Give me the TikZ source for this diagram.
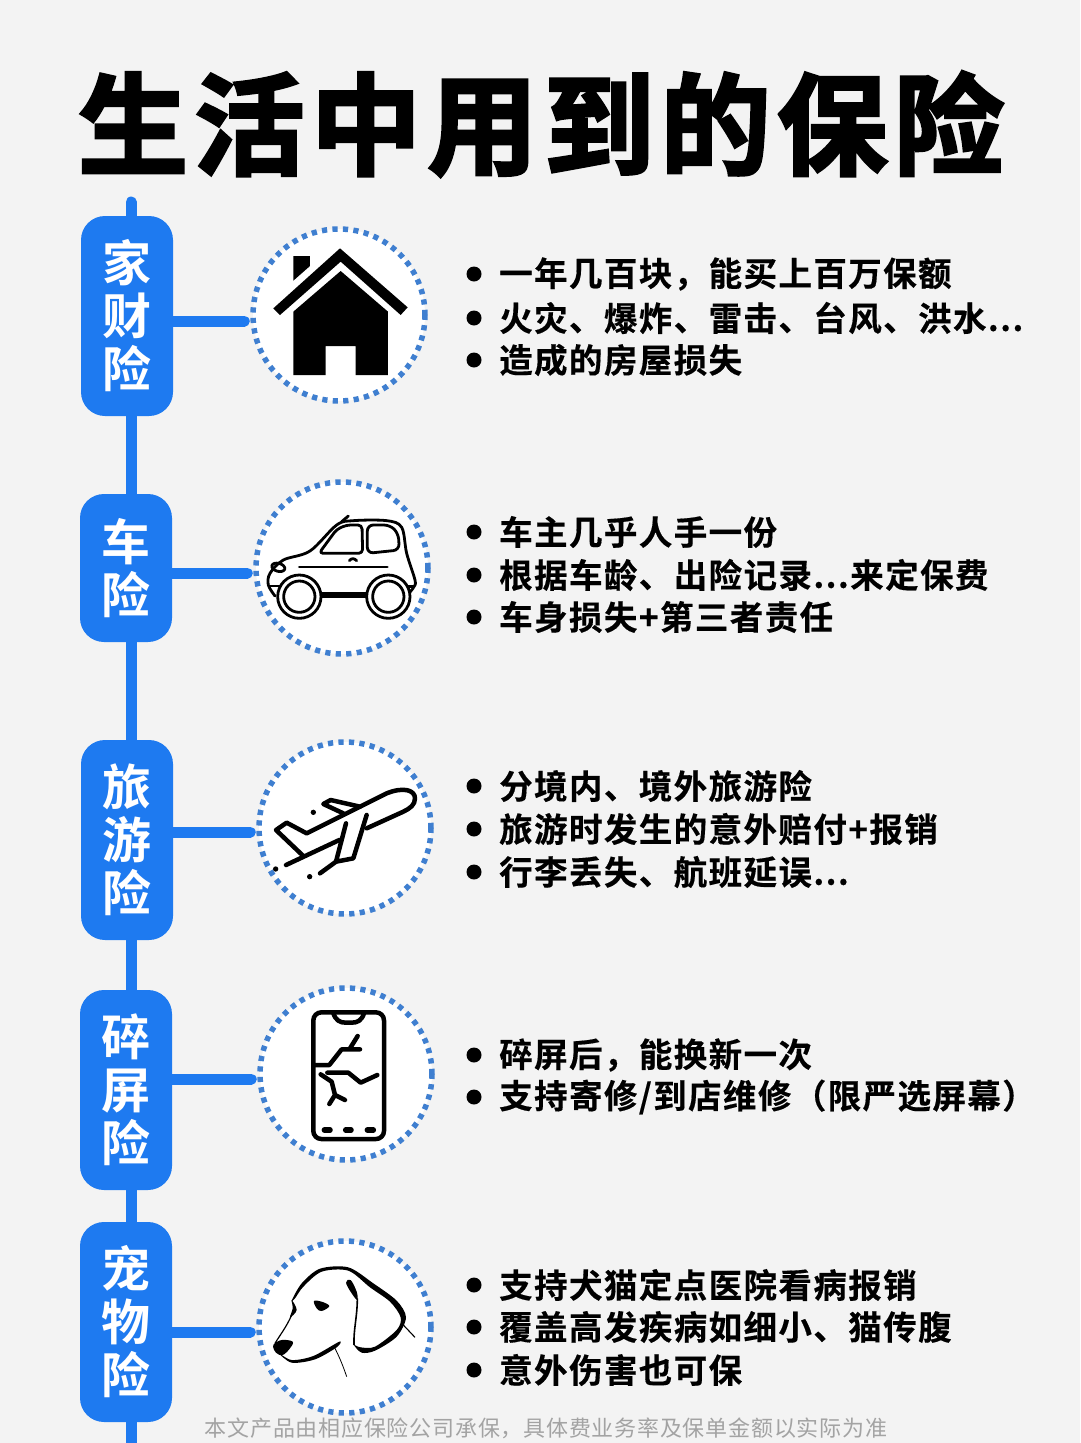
\documentclass[tikz,border=0pt]{standalone}
\usepackage{fontspec}
\setmainfont{Noto Sans CJK SC}
\newfontfamily\titlefont[LetterSpace=6,FakeBold=3]{Noto Sans CJK SC Bold}
\newfontfamily\linefont[LetterSpace=4.2,FakeBold=.4]{Noto Sans CJK SC Bold}
\newfontfamily\pillfont{Noto Sans CJK SC Bold}
\usetikzlibrary{calc}
\definecolor{pageback}{HTML}{F3F3F3}
\definecolor{pillblue}{HTML}{1E7AF0}
\definecolor{ringblue}{HTML}{3F7FD0}
\definecolor{footgrey}{HTML}{A3A3A3}
\tikzset{
    pillbox/.style={fill=pillblue,rounded corners=24pt,minimum width=92pt,inner sep=0pt,text=white,align=center,font=\pillfont\fontsize{49}{53}\selectfont},
    spine/.style={draw=pillblue,line width=11pt,line cap=round},
    ringbox/.style={circle,fill=white,draw=ringblue,line width=5.5pt,dash pattern=on 5.2pt off 5.3pt,minimum size=172pt,inner sep=0pt},
    bulletdot/.style={circle,fill=black,minimum size=15pt,inner sep=0pt},
    linetext/.style={anchor=west,inner sep=0pt,font=\linefont\fontsize{33.5}{36}\selectfont},
    iconline/.style={line width=4.5pt,line cap=round,line join=round},
    carline/.style={line width=2.8pt,line cap=round,line join=round},
}

\begin{document}
\begin{tikzpicture}[x=1pt,y=-1pt]
    \useasboundingbox (0,0) rectangle (1080,1443);
    \fill[pageback] (0,0) rectangle (1080,1443);
    \node[font=\titlefont\fontsize{110}{120}\selectfont,inner sep=0pt] (title) at (541,124) {生活中用到的保险};

    \coordinate (spinetop) at (131,202);
    \coordinate (spineend) at (131,1450);
    \draw[spine] (spinetop) -- (spineend);

    \node[pillbox,minimum height=200pt] (jiacai) at (127,316) {家\\财\\险};
    \node[pillbox,minimum height=148pt] (chexian) at (126,568) {车\\险};
    \node[pillbox,minimum height=200pt] (lvyou) at (127,840) {旅\\游\\险};
    \node[pillbox,minimum height=200pt] (suiping) at (126,1090) {碎\\屏\\险};
    \node[pillbox,minimum height=200pt] (chongwu) at (126,1322) {宠\\物\\险};

    \node[ringbox] (housering) at (339,315) {};
    \node[ringbox] (carring) at (342,568) {};
    \node[ringbox] (planering) at (345,828) {};
    \node[ringbox] (phonering) at (346,1074) {};
    \node[ringbox] (dogring) at (345,1327) {};

    \foreach \from/\to/\y in {jiacai/housering/321,chexian/carring/573,lvyou/planering/832,suiping/phonering/1079,chongwu/dogring/1332} {
        \coordinate (\to tap) at (\to.west |- 0,\y);
        \draw[spine] ($(\from.east |- 0,\y)+(-8,0)$) -- ($(\to tap)+(-6,0)$);
      }

    \begin{scope}[shift={(60,190)},scale=1/3]
        \fill (640,355) -- (840,175) -- (1043,352) -- (1022,375) -- (842,215) -- (660,375) -- cycle;
        \fill (700,198) -- (750,198) -- (750,228) -- (700,272) -- cycle;
        \fill (842,243) -- (984,365) -- (984,555) -- (887,555) -- (887,468) -- (797,468) -- (797,555) -- (700,555) -- (700,365) -- cycle;
      \end{scope}

    \begin{scope}[shift={(240,470)},scale=1/3,carline]
        \draw plot[smooth,tension=.55] coordinates {(105,378) (85,345) (90,310) (130,270) (210,243) (290,165) (340,152) (440,152) (485,172) (500,250) (525,330) (522,350) (505,372)};
        \draw (305,155) -- (325,138);
        \draw[rounded corners=4pt] (237,250) -- (290,178) -- (320,165) -- (366,165) -- (368,250) -- cycle;
        \draw[rounded corners=6pt] (382,165) -- (450,165) -- (475,190) -- (478,240) -- (382,250) -- cycle;
        \draw (178,291) -- (442,291);
        \draw (328,272) .. controls (335,264) and (342,264) .. (350,272);
        \draw[rotate around={-15:(115,292)}] (115,292) ellipse (20 and 12);
        \draw (88,348) -- (120,348) (505,350) -- (522,350);
        \draw (245,370) -- (380,370) (245,380) -- (380,380);
        \foreach \cx in {178,445} {
            \draw[fill=white] (\cx,380) circle (65);
            \draw (\cx,380) circle (47);
          }
      \end{scope}

    \begin{scope}[shift={(240,730)},scale=1/3,iconline]
        \draw (138,405) -- (298,330);
        \draw (190,378) -- (108,300) -- (140,278) -- (200,310) -- (440,190) .. controls (490,170) and (525,180) .. (525,205) .. controls (525,225) and (510,235) .. (490,245) -- (380,295);
        \draw (318,280) -- (288,395) -- (340,385) -- (380,255);
        \draw (288,395) -- (240,430);
        \draw (310,250) -- (250,222) -- (272,210) -- (360,230);
        \foreach \dx/\dy in {220/247,107/417,209/440} {
            \fill (\dx,\dy) circle (8);
          }
      \end{scope}

    \begin{scope}[shift={(240,980)},scale=1/3,iconline]
        \draw[rounded corners=8pt] (220,97) rectangle (432,477);
        \draw (280,100) .. controls (288,122) and (300,128) .. (318,128) -- (335,128) .. controls (352,128) and (365,122) .. (372,100);
        \draw (222,255) -- (268,255) -- (305,208) -- (360,208) (330,205) -- (353,168);
        \draw (262,278) -- (325,278) -- (362,308) -- (412,285);
        \draw (242,283) -- (275,305) -- (285,345) -- (268,372) (285,345) -- (315,360);
        \draw[line width=5.5pt] (253,450) -- (270,450) (317,450) -- (333,450) (382,450) -- (400,450);
      \end{scope}

    \begin{scope}[shift={(240,1230)},scale=1/3]
        \fill plot[smooth cycle,tension=.5] coordinates {(155,212) (185,160) (240,116) (325,112) (400,160) (470,212) (498,262) (470,320) (405,362) (365,368) (342,345) (362,352) (405,350) (470,300) (482,262) (450,215) (390,172) (325,122) (245,125) (190,170) (165,205)};
        \fill plot[smooth cycle,tension=.6] coordinates {(318,158) (332,150) (350,185) (352,210) (335,190)};
        \draw[line width=1.6pt] (352,205) .. controls (352,260) and (340,300) .. (342,345);
        \fill plot[smooth cycle,tension=.6] coordinates {(155,210) (170,240) (150,262) (158,235)};
        \draw[line width=1.2pt] (155,255) .. controls (140,290) and (120,315) .. (105,340);
        \fill plot[smooth cycle,tension=.6] coordinates {(100,345) (125,330) (158,335) (150,355) (128,375) (108,368)};
        \fill plot[smooth cycle,tension=.5] coordinates {(115,368) (155,390) (220,378) (298,335) (290,352) (225,388) (155,398)};
        \draw[line width=.8pt] (285,355) .. controls (300,385) and (310,410) .. (320,440);
        \draw[line width=1.1pt] (490,285) -- (525,322);
        \fill plot[smooth cycle,tension=.6] coordinates {(222,213) (245,215) (268,228) (245,243) (230,235)};
      \end{scope}

    \foreach \i/\y/\t in {1/274/{一年几百块，能买上百万保额},2/318/{火灾、爆炸、雷击、台风、洪水...},3/360/{造成的房屋损失},
        4/532/{车主几乎人手一份},5/575/{根据车龄、出险记录...来定保费},6/617/{车身损失+第三者责任},
        7/786/{分境内、境外旅游险},8/829/{旅游时发生的意外赔付+报销},9/872/{行李丢失、航班延误...},
        10/1055/{碎屏后，能换新一次},11/1097/{支持寄修/到店维修（限严选屏幕）},
        12/1285/{支持犬猫定点医院看病报销},13/1327/{覆盖高发疾病如细小、猫传腹},14/1370/{意外伤害也可保}} {
        \node[bulletdot] (dot\i) at (474,\y) {};
        \node[linetext] (line\i) at (499,\y) {\t};
      }

    \node[text=footgrey,inner sep=0pt,font=\fontsize{22}{26}\selectfont\addfontfeature{LetterSpace=3.5}] (footnote) at (546,1428) {本文产品由相应保险公司承保，具体费业务率及保单金额以实际为准};
  \end{tikzpicture}
\end{document}
